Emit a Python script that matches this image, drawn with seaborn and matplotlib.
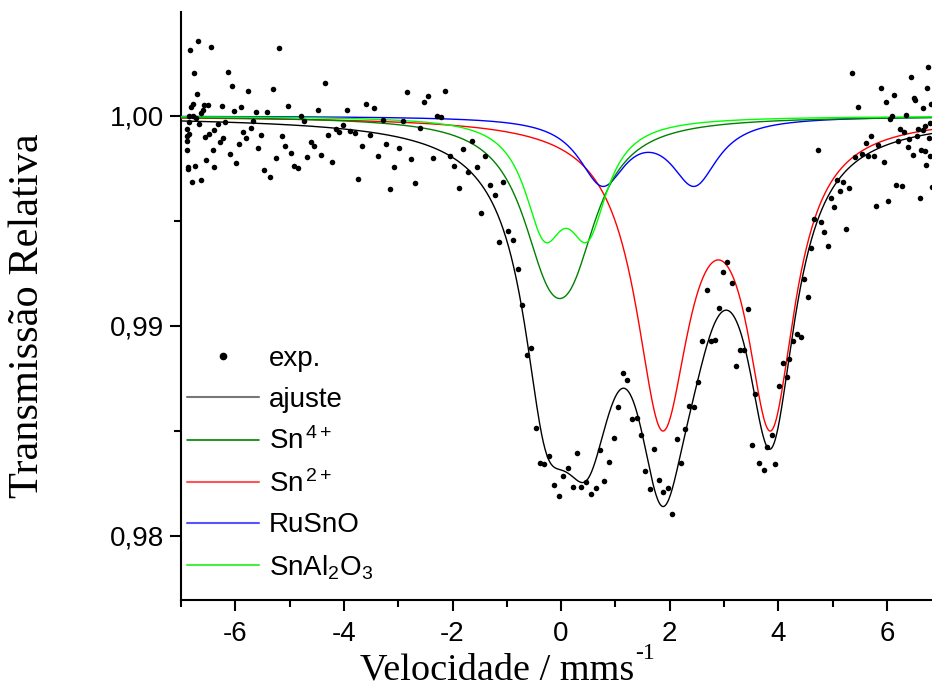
import numpy as np
import pandas as pd
import matplotlib
matplotlib.use("Agg")
import matplotlib.pyplot as plt
import seaborn as sns
from matplotlib.ticker import MultipleLocator, FuncFormatter
from matplotlib.lines import Line2D

# ---------------- data ----------------
velocity = [
    -6.893, -6.882, -6.882, -6.882, -6.864, -6.864, -6.856, -6.845, -6.845, -6.827,
    -6.814, -6.790, -6.783, -6.783, -6.764, -6.746, -6.722, -6.709, -6.691, -6.672,
    -6.635, -6.624, -6.598, -6.569, -6.556, -6.532, -6.506, -6.477, -6.446, -6.414,
    -6.385, -6.385, -6.322, -6.280, -6.249, -6.219, -6.188, -6.138, -6.096, -6.059,
    -6.022, -5.980, -5.936, -5.893, -5.851, -5.801, -5.759, -5.709, -5.667, -5.617,
    -5.580, -5.519, -5.470, -5.414, -5.365, -5.309, -5.249, -5.193, -5.138, -5.088,
    -5.028, -4.972, -4.912, -4.849, -4.794, -4.727, -4.672, -4.604, -4.543, -4.481,
    -4.420, -4.346, -4.285, -4.217, -4.144, -4.083, -4.015, -3.941, -3.880, -3.794,
    -3.733, -3.659, -3.591, -3.512, -3.438, -3.365, -3.284, -3.217, -3.144, -3.070,
    -2.989, -2.915, -2.836, -2.762, -2.683, -2.602, -2.523, -2.444, -2.363, -2.284,
    -2.210, -2.131, -2.050, -1.965, -1.884, -1.805, -1.718, -1.639, -1.552, -1.468,
    -1.394, -1.302, -1.221, -1.136, -1.063, -0.971, -0.889, -0.801, -0.718, -0.632,
    -0.552, -0.460, -0.387, -0.308, -0.215, -0.129, -0.037, 0.037, 0.129, 0.215,
    0.295, 0.374, 0.460, 0.547, 0.639, 0.718, 0.797, 0.884, 0.971, 1.055,
    1.142, 1.221, 1.308, 1.390, 1.473, 1.552, 1.639, 1.718, 1.805, 1.884,
    1.965, 2.050, 2.131, 2.210, 2.289, 2.363, 2.444, 2.517, 2.602, 2.683,
    2.762, 2.842, 2.915, 2.989, 3.063, 3.144, 3.217, 3.297, 3.370, 3.438,
    3.512, 3.578, 3.652, 3.733, 3.799, 3.880, 3.941, 4.009, 4.083, 4.157,
    4.204, 4.278, 4.346, 4.414, 4.481, 4.543, 4.604, 4.665, 4.727, 4.788,
    4.849, 4.912, 4.972, 5.028, 5.088, 5.138, 5.199, 5.254, 5.309, 5.365,
    5.420, 5.470, 5.538, 5.617, 5.659, 5.709, 5.759, 5.807, 5.843, 5.893,
    5.943, 5.980, 6.022, 6.059, 6.101, 6.138, 6.175, 6.212, 6.249, 6.285,
    6.317, 6.354, 6.385, 6.414, 6.446, 6.477, 6.501, 6.525, 6.556, 6.580,
    6.606, 6.630, 6.661, 6.672, 6.698, 6.709, 6.727, 6.746, 6.764, 6.783,
    6.796, 6.801, 6.809, 6.830,
]
transmission = [
    0.99905, 0.99937, 0.99882, 0.99838, 0.99759, 0.99746, 0.99970, 1.00000, 0.99914, 1.00314,
    1.00041, 0.99687, 1.00059, 1.00000, 1.00205, 0.99760, 0.99992, 1.00106, 1.00359, 0.99960,
    1.00016, 0.99697, 1.00029, 1.00051, 0.99899, 0.99789, 1.00051, 0.99914, 1.00327, 0.99838,
    0.99933, 0.99759, 0.99960, 0.99875, 1.00047, 0.99894, 0.99970, 1.00210, 0.99819, 1.00144,
    1.00025, 0.99778, 0.99868, 1.00043, 0.99925, 0.99897, 1.00119, 0.99944, 0.99976, 1.00019,
    0.99848, 0.99910, 0.99743, 1.00019, 0.99711, 1.00129, 0.99799, 1.00324, 0.99905, 0.99859,
    1.00048, 0.99825, 0.99763, 0.99752, 1.00000, 0.99978, 0.99806, 0.99878, 0.99856, 1.00029,
    0.99813, 1.00157, 0.99911, 0.99782, 0.99937, 0.99924, 0.99957, 1.00029, 0.99927, 0.99918,
    0.99701, 0.99859, 1.00059, 0.99910, 1.00040, 0.99810, 0.99981, 0.99865, 0.99651, 0.99756,
    0.99848, 0.99975, 1.00113, 0.99797, 0.99681, 0.99941, 1.00067, 1.00097, 0.99799, 1.00001,
    0.99997, 1.00118, 0.99811, 0.99762, 0.99659, 0.99843, 0.99733, 0.99882, 0.99756, 0.99537,
    0.99808, 0.99673, 0.99625, 0.99401, 0.99686, 0.99452, 0.99411, 0.99271, 0.99100, 0.98860,
    0.98895, 0.98513, 0.98346, 0.98343, 0.98382, 0.98243, 0.98190, 0.98286, 0.98322, 0.98235,
    0.98394, 0.98235, 0.98256, 0.98199, 0.98229, 0.98410, 0.98260, 0.98352, 0.98468, 0.98616,
    0.98778, 0.98743, 0.98557, 0.98560, 0.98481, 0.98310, 0.98222, 0.98416, 0.98267, 0.98211,
    0.98227, 0.98105, 0.98463, 0.98346, 0.98508, 0.98619, 0.98613, 0.98735, 0.98929, 0.99173,
    0.98929, 0.98933, 0.99087, 0.99256, 0.99306, 0.99203, 0.98808, 0.98886, 0.98886, 0.99082,
    0.98433, 0.98675, 0.98346, 0.98314, 0.98422, 0.98480, 0.98341, 0.98713, 0.98822, 0.98756,
    0.98841, 0.98929, 0.98960, 0.98946, 0.99222, 0.99140, 0.99373, 0.99508, 0.99838, 0.99494,
    0.99446, 0.99381, 0.99611, 0.99565, 0.99695, 0.99643, 0.99684, 0.99460, 0.99657, 1.00203,
    0.99803, 1.00041, 0.99818, 0.99870, 0.99811, 0.99905, 0.99808, 0.99573, 0.99860, 1.00135,
    0.99782, 1.00067, 0.99597, 0.99986, 1.00000, 1.00100, 0.99671, 0.99880, 0.99937, 0.99667,
    0.99925, 1.00005, 0.99854, 0.99890, 1.00187, 0.99813, 1.00087, 1.00075, 0.99903, 0.99937,
    0.99610, 0.99837, 0.99933, 1.00038, 0.99954, 0.99833, 0.99768, 1.00135, 1.00235, 0.99897,
    0.99968, 0.99811, 1.00056, 0.99663,
]

# fitted sub-spectra: Lorentzian doublets (line positions, half widths, depths)
sn4_centers, sn4_hwhm, sn4_depth = [-0.25, 0.20], [0.62, 0.62], [0.00492, 0.00492]
sn2_centers, sn2_hwhm, sn2_depth = [1.866, 3.862], [0.60, 0.54], [0.014056, 0.013835]
rusno_centers, rusno_hwhm, rusno_depth = [0.761, 2.455], [0.53, 0.53], [0.00308, 0.00308]
snal_centers, snal_hwhm, snal_depth = [-0.31, 0.49], [0.445, 0.445], [0.00484, 0.00484]

legend_labels = ["exp.", "ajuste", r"Sn$^{\,4+}$", r"Sn$^{\,2+}$", "RuSnO", r"SnAl$_2$O$_3$"]
x_ticks = [-6, -4, -2, 0, 2, 4, 6]
y_ticks = [0.98, 0.99, 1.00]

# ---------------- style ----------------
sns.set_style("ticks")
plt.rcParams["font.family"] = ["Liberation Sans", "DejaVu Sans"]
plt.rcParams["mathtext.fontset"] = "custom"
plt.rcParams["mathtext.rm"] = "Liberation Sans"
plt.rcParams["mathtext.it"] = "Liberation Sans:italic"
plt.rcParams["mathtext.bf"] = "Liberation Sans:bold"
for key in ["text.color", "axes.labelcolor", "xtick.color", "ytick.color", "axes.edgecolor"]:
    plt.rcParams[key] = "black"

W, H = 932, 687
fig = plt.figure(figsize=(W / 100, H / 100), dpi=100)
ax = fig.add_axes([181 / W, 1 - 600 / H, 1 - 181 / W, (600 - 12) / H])

# ---------------- curves ----------------
v = np.linspace(-7.0, 6.83, 1400)


def dip(centers, hwhms, depths):
    out = np.zeros_like(v)
    for c, g, d in zip(centers, hwhms, depths):
        out += d * g ** 2 / ((v - c) ** 2 + g ** 2)
    return out


d_sn4 = dip(sn4_centers, sn4_hwhm, sn4_depth)
d_sn2 = dip(sn2_centers, sn2_hwhm, sn2_depth)
d_ru = dip(rusno_centers, rusno_hwhm, rusno_depth)
d_al = dip(snal_centers, snal_hwhm, snal_depth)

curves = pd.DataFrame({
    "v": v,
    "ajuste": 1 - (d_sn4 + d_sn2 + d_ru + d_al),
    "Sn4": 1 - d_sn4,
    "Sn2": 1 - d_sn2,
    "RuSnO": 1 - d_ru,
    "SnAl2O3": 1 - d_al,
})

colors = {"ajuste": "#000000", "Sn4": "#008000", "Sn2": "#ff0000",
          "RuSnO": "#0000ff", "SnAl2O3": "#00ff00"}
for name in ["Sn2", "RuSnO", "Sn4", "SnAl2O3", "ajuste"]:
    sns.lineplot(data=curves, x="v", y=name, color=colors[name], lw=1.0,
                 estimator=None, sort=False, ax=ax, legend=False, zorder=3)

exp = pd.DataFrame({"v": velocity, "T": transmission})
sns.scatterplot(data=exp, x="v", y="T", color="black", s=16, linewidth=0,
                ax=ax, zorder=5, legend=False)

# ---------------- axes ----------------
ax.set_xlim(-7.0, 6.83)
ax.set_ylim(0.97695, 1.00495)
ax.set_xticks(x_ticks)
ax.set_yticks(y_ticks)
ax.xaxis.set_minor_locator(MultipleLocator(1))
ax.yaxis.set_minor_locator(MultipleLocator(0.005))
ax.xaxis.set_major_formatter(FuncFormatter(lambda val, p: f"{val:.0f}"))
ax.yaxis.set_major_formatter(FuncFormatter(lambda val, p: f"{val:.2f}".replace(".", ",")))
ax.set_xlabel("")
ax.set_ylabel("")
for s in ["top", "right"]:
    ax.spines[s].set_visible(False)
for s in ["left", "bottom"]:
    ax.spines[s].set_linewidth(1.5)
    ax.spines[s].set_color("black")
ax.tick_params(which="major", direction="out", length=8, width=1.5,
               labelsize=20, color="black", labelcolor="black")
ax.tick_params(axis="x", which="major", pad=7)
ax.tick_params(axis="y", which="major", pad=4)
ax.tick_params(which="minor", direction="out", length=5, width=1.5, color="black")

# labels
serif = ["Liberation Serif", "DejaVu Serif"]
fig.text(28 / W, 1 - 316 / H, "Transmissão Relativa", rotation=90,
         family=serif, fontsize=30.5, ha="center", va="center", color="black")
fig.text(360 / W, 1 - 679 / H, "Velocidade / mms",
         family=serif, fontsize=27.5, ha="left", va="baseline", color="black")
fig.text(635 / W, 1 - 659 / H, "-1",
         family=serif, fontsize=17, ha="left", va="baseline", color="black")

# legend
handles = [
    Line2D([], [], marker="o", ls="none", color="black", markersize=4.5),
    Line2D([], [], color="#777777", lw=1.5),
    Line2D([], [], color="#008000", lw=1.2),
    Line2D([], [], color="#ff5555", lw=1.5),
    Line2D([], [], color="#5555ff", lw=1.5),
    Line2D([], [], color="#44ee44", lw=1.5),
]
ax.legend(handles, legend_labels, loc="upper left", bbox_to_anchor=(0.008, 0.432),
          frameon=False, fontsize=20, handlelength=2.6, handletextpad=0.35,
          labelspacing=0.53, borderaxespad=0, borderpad=0, labelcolor="black")

fig.savefig("out.png", dpi=100)
